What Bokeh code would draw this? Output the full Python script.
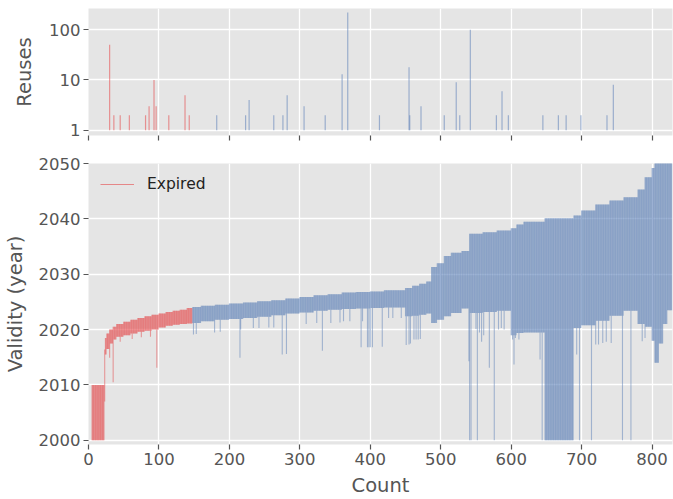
import numpy as np
from bokeh.plotting import figure
from bokeh.models import (ColumnDataSource, Legend, LegendItem, FixedTicker,
                          PrintfTickFormatter, CustomJSTickFormatter, Range1d)
from bokeh.layouts import column
from bokeh.embed import file_html
from bokeh.resources import INLINE

# ---------------- data ----------------
N_ITEMS = 829
EXPIRED_COUNT = 148

# runs of consecutive items: first index, expiry year, issue year
run_first = [0, 5, 23, 24, 26, 30, 35, 40, 50, 60, 70, 80, 90, 100, 110, 120, 130, 140,
             148, 160, 180, 200, 220, 240, 260, 280, 300, 320, 340, 360, 380, 400, 420,
             450, 460, 470, 480, 487, 495, 505, 515, 530, 541, 560, 580, 600, 608, 618,
             648, 689, 700, 720, 740, 760, 780, 790, 800, 804, 810, 816, 822]
run_end = [1999.0, 2010.0, 2016.4, 2018.5, 2019.3, 2020.0, 2020.5, 2021.0, 2021.4, 2021.8,
           2022.1, 2022.4, 2022.7, 2022.9, 2023.2, 2023.4, 2023.6, 2023.9,
           2024.1, 2024.3, 2024.5, 2024.7, 2024.9, 2025.1, 2025.3, 2025.6, 2025.9, 2026.2,
           2026.4, 2026.7, 2026.8, 2026.9, 2027.1,
           2027.5, 2027.9, 2028.3, 2028.7, 2031.3, 2032.0, 2033.3, 2033.9, 2034.2, 2037.3,
           2037.6, 2037.9, 2038.3, 2039.0, 2039.5,
           2040.1, 2040.6, 2041.5, 2042.6, 2043.3, 2043.9, 2045.3, 2047.5, 2049.2, 2053.0,
           2056.0, 2058.0, 2060.0]
run_begin = [1995.0, 2000.0, 2007.0, 2015.5, 2016.5, 2017.5, 2018.2, 2018.7, 2019.0, 2019.3,
             2019.6, 2019.8, 2020.0, 2020.4, 2020.7, 2020.9, 2021.0, 2021.1,
             2021.2, 2021.5, 2021.8, 2021.9, 2022.1, 2022.3, 2022.6, 2022.9, 2023.1, 2023.4,
             2023.6, 2023.7, 2023.8, 2023.9, 2024.0,
             2022.4, 2022.5, 2022.7, 2022.9, 2021.2, 2021.8, 2022.4, 2023.0, 2023.8, 2023.0,
             2023.2, 2023.4, 2019.0, 2019.4, 2019.5,
             2000.0, 2020.3, 2020.8, 2021.6, 2022.5, 2023.4, 2021.0, 2020.5, 2018.0, 2014.0,
             2017.5, 2021.0, 2023.5]

# single items issued much earlier than their neighbours
spike_idx = [30, 35, 45, 62, 75, 88, 97,
             149, 153, 179, 187, 215, 216, 234, 242, 256, 263, 275, 281, 309, 324, 332,
             344, 357, 362, 371, 387, 389, 396, 398, 400, 403, 417, 426, 432, 444,
             451, 455, 457, 462, 465, 468, 471,
             540, 541, 543, 550, 552, 555, 558, 561, 569, 576, 582, 586, 590,
             602, 604, 606, 611, 641, 644, 693, 697, 714, 720, 724, 730, 735, 742,
             758, 770, 786, 790]
spike_begin = [2014.9, 2010.5, 2017.8, 2018.3, 2018.6, 2018.7, 2013.1,
               2019.1, 2019.2, 2019.5, 2019.6, 2014.9, 2020.0, 2020.3, 2020.3, 2020.4,
               2020.4, 2015.5, 2015.6, 2021.0, 2021.2, 2016.2,
               2021.2, 2021.3, 2021.5, 2021.5, 2016.8, 2021.5, 2016.8, 2016.8, 2016.8,
               2016.8, 2016.9, 2022.1, 2022.1, 2022.1,
               2017.2, 2017.3, 2017.5, 2018.2, 2018.2, 2018.2, 2018.3,
               2014.3, 2000.0, 2000.0, 2020.1, 2000.0, 2019.5, 2017.8, 2019.0, 2013.1,
               2000.0, 2020.0, 2020.3, 2020.0,
               2018.2, 2013.7, 2018.5, 2018.2, 2014.6, 2000.0, 2015.5, 2000.0, 2000.0,
               2017.3, 2017.3, 2017.6, 2017.8, 2017.6,
               2000.0, 2000.0, 2017.9, 2018.5]

reuse_idx = [30, 36, 45, 58, 81, 86, 93, 96, 114, 137, 143, 182, 223, 228, 263, 276, 282,
             306, 336, 360, 368, 413, 455, 456, 472, 505, 522, 527, 542, 579, 587, 596,
             645, 667, 678, 699, 736, 745]
reuse_val = [50, 2, 2, 2, 2, 3, 10, 3, 2, 5, 2, 2, 2, 4, 2, 2, 5,
             3, 2, 13, 220, 2, 18, 2, 3, 2, 9, 2, 100, 2, 6, 2,
             2, 2, 2, 2, 2, 8]

x_ticks = [0, 100, 200, 300, 400, 500, 600, 700, 800]
year_ticks = [2000, 2010, 2020, 2030, 2040, 2050]
reuse_ticks = [1, 10, 100]

# ---------------- build per-item table ----------------
end = np.empty(N_ITEMS)
begin = np.empty(N_ITEMS)
bounds = run_first + [N_ITEMS]
for k in range(len(run_first)):
    end[bounds[k]:bounds[k + 1]] = run_end[k]
    begin[bounds[k]:bounds[k + 1]] = run_begin[k]
for i, b in zip(spike_idx, spike_begin):
    begin[i] = b
idx = np.arange(N_ITEMS)

RED = "#E5484A"
BLUE = "#5C7FB8"
ALPHA = 0.5
FONT = "DejaVu Sans"
GREY = "#555555"

exp_src = ColumnDataSource(dict(x=idx[:EXPIRED_COUNT], y0=begin[:EXPIRED_COUNT], y1=end[:EXPIRED_COUNT]))
val_src = ColumnDataSource(dict(x=idx[EXPIRED_COUNT:], y0=begin[EXPIRED_COUNT:], y1=end[EXPIRED_COUNT:]))

r_idx = np.array(reuse_idx)
r_val = np.array(reuse_val, dtype=float)
r_col = [RED if i < EXPIRED_COUNT else BLUE for i in reuse_idx]
reuse_src = ColumnDataSource(dict(x=r_idx, y0=np.ones(len(r_idx)), y1=r_val, c=r_col))


def style(p):
    p.background_fill_color = "#E5E5E5"
    p.border_fill_color = "white"
    p.outline_line_color = None
    p.grid.grid_line_color = "white"
    p.grid.grid_line_width = 1.3
    for ax in p.axis:
        ax.axis_line_color = None
        ax.major_tick_line_color = GREY
        ax.major_tick_line_width = 1.2
        ax.major_tick_out = 5
        ax.major_tick_in = 0
        ax.minor_tick_line_color = None
        ax.major_label_text_color = GREY
        ax.major_label_text_font = FONT
        ax.major_label_text_font_size = "16.5px"
        ax.major_label_standoff = 3
        ax.axis_label_text_font = FONT
        ax.axis_label_text_font_size = "19.5px"
        ax.axis_label_text_color = GREY
        ax.axis_label_text_font_style = "normal"
        ax.axis_label_standoff = 3


xr = Range1d(0, 829)

top = figure(width=673, height=153, x_range=xr, y_range=Range1d(0.79, 263),
             y_axis_type="log", output_backend="svg", toolbar_location=None,
             min_border_left=88, min_border_right=1, min_border_top=8, min_border_bottom=18)
top.segment(x0="x", y0="y0", x1="x", y1="y1", source=reuse_src,
            line_color="c", line_alpha=0.55, line_width=1.2)
style(top)
top.yaxis.ticker = FixedTicker(ticks=reuse_ticks)
top.yaxis.formatter = PrintfTickFormatter(format="%d")
top.ygrid.ticker = FixedTicker(ticks=reuse_ticks)
top.xaxis.ticker = FixedTicker(ticks=x_ticks)
top.xgrid.ticker = FixedTicker(ticks=x_ticks)
top.xaxis.formatter = CustomJSTickFormatter(code="return ''")
top.xaxis.major_label_text_font_size = "1px"
top.xaxis.major_label_standoff = 0
top.yaxis.axis_label = "Reuses"
top.yaxis.axis_label_standoff = 10

bot = figure(width=673, height=346, x_range=xr, y_range=Range1d(1999.25, 2050),
             output_backend="svg", toolbar_location=None,
             min_border_left=88, min_border_right=1, min_border_top=10, min_border_bottom=54)
bot.segment(x0="x", y0="y0", x1="x", y1="y1", source=exp_src,
            line_color=RED, line_alpha=ALPHA, line_width=1.1)
bot.segment(x0="x", y0="y0", x1="x", y1="y1", source=val_src,
            line_color=BLUE, line_alpha=ALPHA, line_width=1.1)
# off-screen line used only as the legend sample
legend_line = bot.line(x=[-20, -10], y=[1990, 1990], line_color=RED, line_alpha=0.6,
                       line_width=1.2)
style(bot)
bot.xaxis.ticker = FixedTicker(ticks=x_ticks)
bot.xgrid.ticker = FixedTicker(ticks=x_ticks)
bot.yaxis.ticker = FixedTicker(ticks=year_ticks)
bot.ygrid.ticker = FixedTicker(ticks=year_ticks)
bot.xaxis.axis_label = "Count"
bot.xaxis.axis_label_standoff = 6
bot.yaxis.axis_label = "Validity (year)"
bot.yaxis.axis_label_standoff = 9

legend = Legend(items=[LegendItem(label="Expired", renderers=[legend_line])],
                location="top_left", background_fill_alpha=0, border_line_color=None,
                label_text_font=FONT, label_text_font_size="15.5px", label_text_color="#222222",
                glyph_width=34, glyph_height=10, label_height=12, padding=8, margin=12,
                label_standoff=13)
bot.add_layout(legend)

layout = column(top, bot, spacing=0)
open("out.html", "w").write(file_html(layout, INLINE))
